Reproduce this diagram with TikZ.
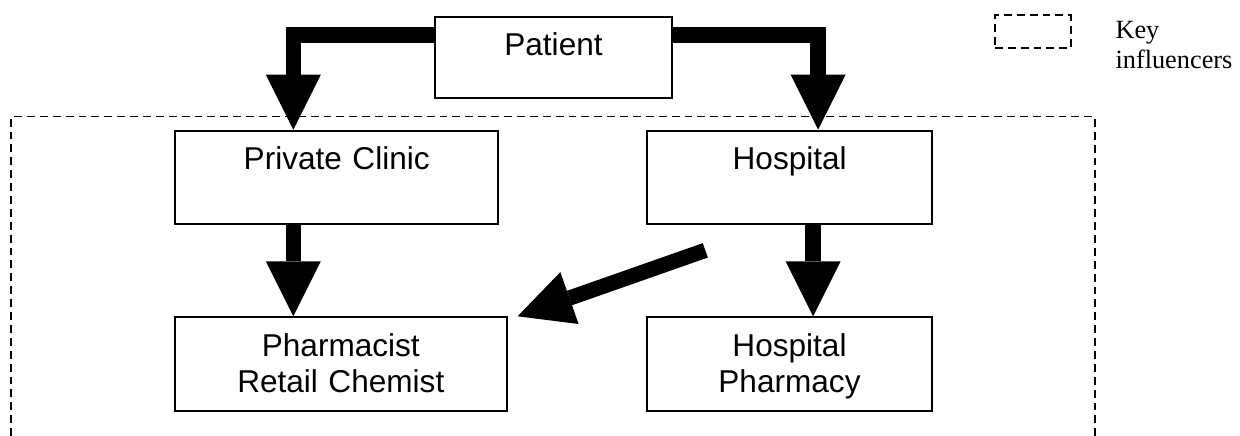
\documentclass[tikz,border=0pt]{standalone}
\usepackage{fontspec}
\newfontfamily\arialfont{Liberation Sans}
\newfontfamily\timesfont[Ligatures=CommonOff]{Liberation Serif}
\usetikzlibrary{arrows.meta,positioning}

\begin{document}
\begin{tikzpicture}[x=0.38pt, y=-0.38pt,
    box/.style={draw, line width=0.75pt, minimum width=#1, minimum height=35.5pt, inner sep=0pt},
    txt/.style={anchor=base, text width=140pt, align=center, inner sep=0pt,
      font=\arialfont\fontsize{12}{13.9}\selectfont},
    flow/.style={line width=5.8pt, -{Triangle[length=20.9pt, width=20.9pt, line width=0pt]}},
    keyline/.style={line width=0.7pt, dash pattern=on 3pt off 1.9pt}]
    \useasboundingbox (0,0) rectangle (1240,436);

    % boxes
    \node[box=90.1pt, minimum height=30.8pt] (patient) at (553.5,57.2) {};
    \node[box=122.9pt] (clinic) at (336.7,177.4) {};
    \node[box=108.2pt] (hospital) at (789.7,177.4) {};
    \node[box=126pt] (pharm) at (340.8,364) {};
    \node[box=108.1pt] (hpharm) at (789.5,364) {};

    \node[txt] (patient-t) at ([yshift=-15.2pt]patient.north) {Patient};
    \node[txt] (clinic-t) at ([yshift=-15.2pt]clinic.north) {Private Clinic};
    \node[txt] (hospital-t) at ([yshift=-15.2pt]hospital.north) {Hospital};
    \node[txt] (pharm-t) at ([yshift=-15.2pt]pharm.north) {Pharmacist\\Retail Chemist};
    \node[txt] (hpharm-t) at ([yshift=-15.2pt]hpharm.north) {Hospital\\Pharmacy};

    % flows
    \draw[flow] ([yshift=8.44pt]patient.west) -| ([xshift=-16.5pt]clinic.north);
    \draw[flow] ([yshift=8.44pt]patient.east) -| ([xshift=10.8pt]hospital.north);
    \draw[flow] ([xshift=-16.5pt]clinic.south) -- ([xshift=-16.5pt]clinic.south |- pharm.north);
    \draw[flow] ([xshift=8.9pt]hospital.south) -- ([xshift=8.9pt]hospital.south |- hpharm.north);
    \draw[flow] ([xshift=22.4pt,yshift=-9.6pt]hospital.south west) -- ([xshift=3.8pt]pharm.north east);

    % key influencers
    \draw[keyline, line width=0.6pt] (11,436) |- (1095,116.7) -- (1095,436);
    \node[draw, keyline, minimum width=28.8pt, minimum height=12.5pt, inner sep=0pt] (keybox) at (1032.8,31.8) {};
    \node[anchor=base west, text width=60pt, align=left, inner sep=0pt,
      font=\timesfont\fontsize{10}{11.4}\selectfont] (key-t) at (1115,38.3) {Key\\influencers};
  \end{tikzpicture}
\end{document}
